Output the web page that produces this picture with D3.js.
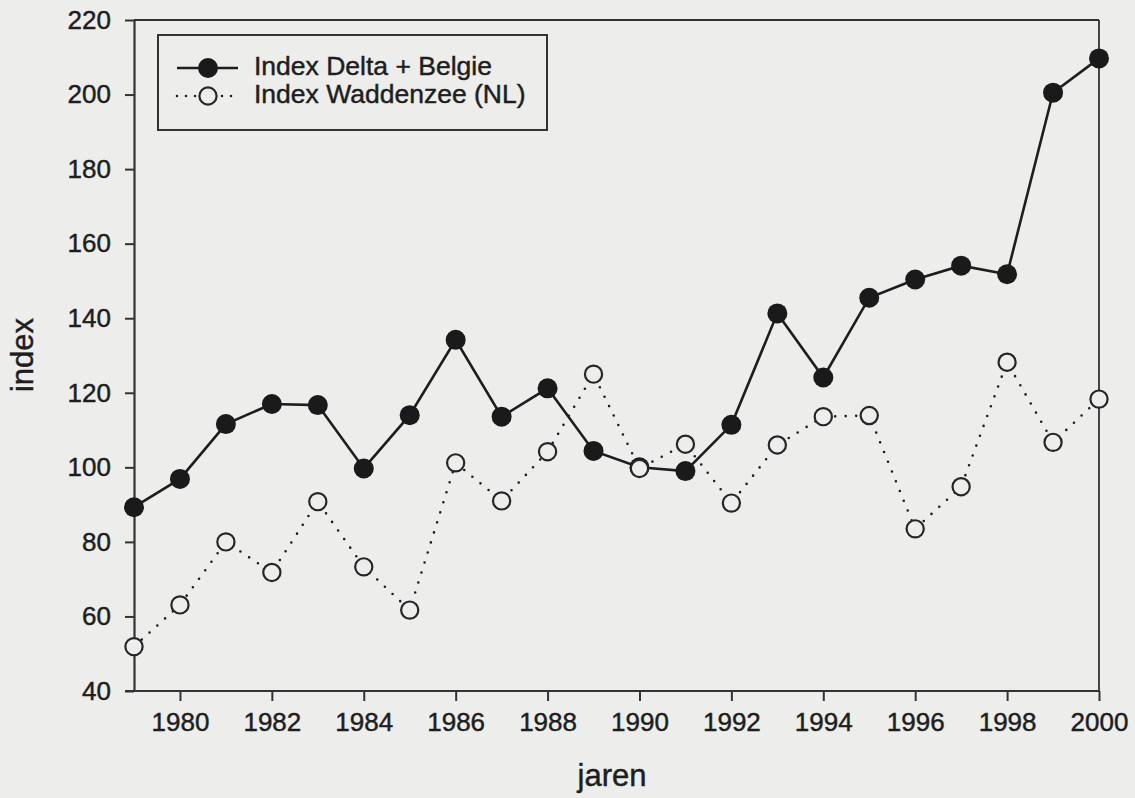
<!DOCTYPE html>
<html>
<head>
<meta charset="utf-8">
<script src="https://cdn.jsdelivr.net/npm/d3@7"></script>
<style>
  body { margin: 0; background: #ededec; }
  svg { display: block; font-family: "Liberation Sans", Arial, sans-serif; }
  svg text { stroke: #1e1e1e; stroke-width: 0.45px; }
  .tick text { fill: #1e1e1e; font-family: "Liberation Sans", Arial, sans-serif; }
</style>
</head>
<body>
<svg id="chart" width="1135" height="798"></svg>
<script>
const years = [1979,1980,1981,1982,1983,1984,1985,1986,1987,1988,1989,1990,1991,1992,1993,1994,1995,1996,1997,1998,1999,2000];
const delta = [89.3,96.9,111.6,117,116.7,99.7,114,134.2,113.6,121.2,104.4,100,99,111.4,141.3,124.1,145.5,150.4,154.1,151.8,200.5,209.7];
const wadden = [51.9,63.1,80,71.8,90.8,73.3,61.7,101.2,91,104.2,125,99.7,106.2,90.4,106,113.6,113.9,83.5,94.8,128.2,106.7,118.3];
const xTicks = [1980,1982,1984,1986,1988,1990,1992,1994,1996,1998,2000];
const yTicks = [40,60,80,100,120,140,160,180,200,220];
const seriesNames = ["Index Delta + Belgie","Index Waddenzee (NL)"];

const bg = "#ededec", ink = "#1e1e1e";
const pLeft = 134, pRight = 1099, pTop = 20, pBottom = 691;
const font = "'Liberation Sans', Arial, sans-serif";

const svg = d3.select("#chart");
svg.append("rect").attr("width",1135).attr("height",798).attr("fill",bg);

const x = d3.scaleLinear().domain([1979,2000]).range([pLeft,pRight]);
const y = d3.scaleLinear().domain([40,220]).range([pBottom,pTop]);

// frame: top and right
svg.append("line").attr("x1",pLeft).attr("x2",pRight).attr("y1",pTop).attr("y2",pTop)
   .attr("stroke","#333").attr("stroke-width",1.8);
svg.append("line").attr("x1",pRight).attr("x2",pRight).attr("y1",pTop).attr("y2",pBottom)
   .attr("stroke","#333").attr("stroke-width",1.8);

// axes
const xAxis = svg.append("g").attr("transform",`translate(0,${pBottom})`)
   .call(d3.axisBottom(x).tickValues(xTicks).tickFormat(d3.format("d")).tickSize(10).tickPadding(12).tickSizeOuter(0));
const yAxis = svg.append("g").attr("transform",`translate(${pLeft},0)`)
   .call(d3.axisLeft(y).tickValues(yTicks).tickSize(9).tickPadding(14).tickSizeOuter(0));

[xAxis,yAxis].forEach(a=>{
  a.attr("font-family",font);
  a.select(".domain").attr("stroke","#333").attr("stroke-width",2.2);
  a.selectAll(".tick line").attr("stroke","#333").attr("stroke-width",2);
  a.selectAll(".tick text").style("font-size","26px");
});
// bottom axis line extends left to meet the 40 tick
xAxis.select(".domain").attr("d",`M${pLeft-9},0H${pRight}`);

// axis titles
svg.append("text").attr("x",612).attr("y",786).attr("text-anchor","middle")
   .style("font-size","31px").attr("fill",ink).text("jaren");
svg.append("text").attr("transform","translate(33,355) rotate(-90)").attr("text-anchor","middle")
   .style("font-size","31px").attr("fill",ink).text("index");

const line = d3.line().x((d,i)=>x(years[i])).y(d=>y(d));

// Delta + Belgie
svg.append("path").datum(delta).attr("d",line)
   .attr("fill","none").attr("stroke",ink).attr("stroke-width",2.6);
svg.append("g").selectAll("circle").data(delta).enter().append("circle")
   .attr("cx",(d,i)=>x(years[i])).attr("cy",d=>y(d)).attr("r",10).attr("fill","#1a1a1a");

// Waddenzee
svg.append("path").datum(wadden).attr("d",line)
   .attr("fill","none").attr("stroke",ink).attr("stroke-width",2.6)
   .attr("stroke-dasharray","0,10.5").attr("stroke-linecap","round");
svg.append("g").selectAll("circle").data(wadden).enter().append("circle")
   .attr("cx",(d,i)=>x(years[i])).attr("cy",d=>y(d)).attr("r",8.6)
   .attr("fill",bg).attr("stroke","#262626").attr("stroke-width",2.2);

// legend
const legend = svg.append("g").attr("transform","translate(158,35)");
legend.append("rect").attr("width",389).attr("height",95)
   .attr("fill","none").attr("stroke","#333").attr("stroke-width",2);
const rows = legend.selectAll("g").data(seriesNames).enter().append("g")
   .attr("transform",(d,i)=>`translate(0,${33+i*28})`);
rows.append("line").attr("x1",19).attr("x2",80).attr("y1",0).attr("y2",0)
   .attr("stroke",ink).attr("stroke-width",2.6)
   .attr("stroke-dasharray",(d,i)=>i?"0,9":null).attr("stroke-linecap",(d,i)=>i?"round":"butt");
rows.append("circle").attr("cx",50).attr("cy",0)
   .attr("r",(d,i)=>i?8.6:10)
   .attr("fill",(d,i)=>i?bg:"#1a1a1a")
   .attr("stroke",(d,i)=>i?"#262626":"none").attr("stroke-width",2.2);
rows.append("text").attr("x",96).attr("y",7).style("font-size","26.5px").attr("fill",ink).text(d=>d);
</script>
</body>
</html>
